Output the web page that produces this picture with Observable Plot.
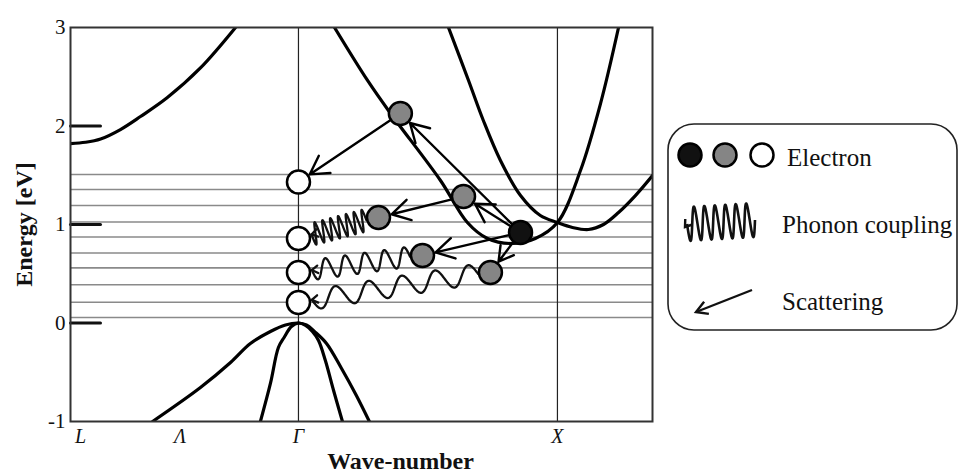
<!DOCTYPE html>
<html><head><meta charset="utf-8">
<script src="https://cdn.jsdelivr.net/npm/d3@7"></script>
<script src="https://cdn.jsdelivr.net/npm/@observablehq/plot@0.6"></script>
<style>
body{margin:0;background:#fff;}
#wrap{position:relative;width:959px;height:476px;overflow:hidden;}
#legend{position:absolute;left:667px;top:123px;}
</style></head><body><div id="wrap"></div>
<script>
// ---------- data ----------
const xDomain = [0, 2.553];            // wave-number: L = 0, Γ = 1, X = 2.136
const yDomain = [-1, 3];               // energy [eV]
const xLabels = ["L", "Λ", "Γ", "X"];
const xLabelPos = [0, 0.48, 1, 2.136];
const symmetryLines = [1, 2.136];      // vertical lines at Γ and X
const yTicks = [3, 2, 1, 0, -1];
const majorTicks = [2, 1, 0];
const levels = [1.508, 1.355, 1.193, 1.025, 0.873, 0.71, 0.56, 0.388, 0.21, 0.056];

// bands
const bandLk = [0, 0.066, 0.132, 0.219, 0.307, 0.425, 0.570, 0.724];
const bandLE = [1.822, 1.835, 1.868, 1.964, 2.096, 2.289, 2.589, 3.0];
const vbWideK = [0.360, 0.570, 0.702, 0.789, 0.877, 0.943, 1.0, 1.035, 1.07, 1.123, 1.189, 1.254, 1.311];
const vbWideE = [-1.0, -0.655, -0.401, -0.208, -0.086, -0.02, 0, -0.02, -0.086, -0.208, -0.462, -0.736, -1.0];
const vbNarrowK = [0.833, 0.877, 0.912, 0.937, 0.969, 1.0, 1.031, 1.061, 1.088, 1.118, 1.154, 1.193];
const vbNarrowE = [-1.0, -0.614, -0.249, -0.147, -0.036, 0, -0.025, -0.086, -0.178, -0.381, -0.685, -1.0];
const cbAk = [1.158, 1.303, 1.404, 1.623, 1.741, 1.829, 1.939, 2.039, 2.136, 2.237, 2.325, 2.404];
const cbAE = [3.0, 2.462, 2.127, 1.447, 1.020, 0.858, 0.807, 0.858, 1.020, 1.548, 2.228, 3.0];
const cbBk = [1.658, 1.746, 1.811, 1.886, 1.974, 2.061, 2.136, 2.202, 2.272, 2.338, 2.404, 2.478, 2.553];
const cbBE = [3.0, 2.462, 2.056, 1.650, 1.294, 1.091, 1.020, 0.970, 0.949, 1.0, 1.122, 1.294, 1.497];

// electrons
const electronId = ["hot", "g1", "g2", "g3", "g4", "g5", "w1", "w2", "w3", "w4"];
const electronK = [1.974, 1.447, 1.724, 1.351, 1.544, 1.842, 1, 1, 1, 1];
const electronE = [0.919, 2.127, 1.284, 1.071, 0.685, 0.513, 1.432, 0.858, 0.513, 0.208];
const electronKind = ["hot", "warm", "warm", "warm", "warm", "warm", "cold", "cold", "cold", "cold"];

// scattering arrows and phonon couplings
const scatterFrom = ["hot", "hot", "hot", "hot", "g1", "g2"];
const scatterTo = ["g1", "g2", "g4", "g5", "w1", "g3"];
const phononFrom = ["g3", "g4", "g5"];
const phononTo = ["w2", "w3", "w4"];
const phononCycles = [7, 5, 5];

// ---------- tables built from the arrays ----------
const zip = (ks, es, band) => ks.map((k, i) => ({k, E: es[i], band}));
const bands = [
  ...zip(bandLk, bandLE, "L"), ...zip(vbWideK, vbWideE, "hh"), ...zip(vbNarrowK, vbNarrowE, "lh"),
  ...zip(cbAk, cbAE, "A"), ...zip(cbBk, cbBE, "B")
];
const electrons = electronId.map((id, i) => ({id, k: electronK[i], E: electronE[i], kind: electronKind[i]}));
const byId = Object.fromEntries(electrons.map(d => [d.id, d]));
const scatter = scatterFrom.map((f, i) => ({a: byId[f], b: byId[scatterTo[i]]}));
const phonons = phononFrom.map((f, i) => ({a: byId[f], b: byId[phononTo[i]], n: phononCycles[i]}));
const fillOf = {hot: "#111", warm: "#858585", cold: "#fff"};
const serif = "Liberation Serif, Times New Roman, serif";

const wigglePts = (x0, y0, x1, y1, n, amp) => {
  const dx = x1 - x0, dy = y1 - y0, L = Math.hypot(dx, dy), ux = dx / L, uy = dy / L;
  const pts = [];
  for (let i = 0; i <= 240; i++) {
    const t = i / 240, w = amp * Math.sin(2 * Math.PI * n * t);
    pts.push([x0 + dx * t - uy * w, y0 + dy * t + ux * w]);
  }
  return pts;
};
const headPath = (tx, ty, ux, uy, len, ang) => {
  const a = ang * Math.PI / 180;
  const r = (c, s) => [tx - len * (ux * c - uy * s), ty - len * (uy * c + ux * s)];
  const p1 = r(Math.cos(a), Math.sin(a)), p2 = r(Math.cos(a), -Math.sin(a));
  return `M${p1}L${tx},${ty}L${p2}`;
};

function phononMark(index, scales) {
  const g = d3.create("svg:g").attr("fill", "none").attr("stroke", "#111")
    .attr("stroke-width", 2.3).attr("stroke-linejoin", "round").attr("stroke-linecap", "round");
  const amps = [11, 10, 10];
  phonons.forEach((p, i) => {
    const ax = scales.x(p.a.k), ay = scales.y(p.a.E), bx = scales.x(p.b.k), by = scales.y(p.b.E);
    const L = Math.hypot(bx - ax, by - ay), ux = (bx - ax) / L, uy = (by - ay) / L;
    const x0 = ax + ux * 12, y0 = ay + uy * 12, x1 = bx - ux * 14, y1 = by - uy * 14;
    g.append("path").attr("d", d3.line()(wigglePts(x0, y0, x1, y1, p.n, amps[i])));
    g.append("path").attr("d", headPath(x1, y1, ux, uy, 7, 32));
  });
  return g.node();
}

const chart = Plot.plot({
  width: 959, height: 476,
  marginLeft: 70, marginRight: 307, marginTop: 27, marginBottom: 55,
  style: {fontFamily: serif, background: "white", color: "#111"},
  x: {domain: xDomain, axis: null},
  y: {domain: yDomain, axis: null},
  marks: [
    Plot.ruleY(levels, {stroke: "#8a8a8a", strokeWidth: 1.6}),
    Plot.ruleX(symmetryLines, {stroke: "#222", strokeWidth: 1.2}),
    Plot.vector(majorTicks, {y: d => d, frameAnchor: "left", rotate: 90, length: 30, anchor: "start",
      stroke: "#111", strokeWidth: 3,
      shape: {draw(ctx, l) { ctx.moveTo(0, 0); ctx.lineTo(0, -l); }}}),
    Plot.line(bands, {x: "k", y: "E", z: "band", curve: "catmull-rom", stroke: "#000", strokeWidth: 3.2, clip: true}),
    Plot.frame({stroke: "#333", strokeWidth: 2}),
    Plot.arrow(scatter, {x1: d => d.a.k, y1: d => d.a.E, x2: d => d.b.k, y2: d => d.b.E,
      insetStart: 13, insetEnd: 13.5, headLength: 13, headAngle: 60, stroke: "#000", strokeWidth: 2.4}),
    phononMark,
    Plot.dot(electrons, {x: "k", y: "E", r: 11.5, fill: d => fillOf[d.kind], stroke: "#000", strokeWidth: 2.5}),
    Plot.text(yTicks, {y: d => d, text: d => String(d), frameAnchor: "left", dx: -5, textAnchor: "end",
      fontSize: 21, fill: "#111"}),
    Plot.text(xLabels.slice(1), {x: (d, i) => xLabelPos[i + 1], text: d => d, frameAnchor: "bottom",
      lineAnchor: "middle", dy: 15, fontSize: 20, fontStyle: "italic", fill: "#111"}),
    Plot.text(xLabels.slice(0, 1), {x: xLabelPos[0], text: d => d, frameAnchor: "bottom",
      lineAnchor: "middle", textAnchor: "middle", dy: 15, dx: 10, fontSize: 20, fontStyle: "italic", fill: "#111"}),
    Plot.text(["Energy [eV]"], {frameAnchor: "left", textAnchor: "middle", lineAnchor: "middle", dx: -46,
      rotate: -90, fontSize: 24, fontWeight: "bold", fill: "#111"}),
    Plot.text(["Wave-number"], {frameAnchor: "bottom", textAnchor: "middle", lineAnchor: "middle", dx: 39, dy: 40,
      fontSize: 24, fontWeight: "bold", fill: "#111"})
  ]
});
document.getElementById("wrap").appendChild(chart);

// ---------- legend (to the right of the frame) ----------
const lg = d3.select("#wrap").append("svg").attr("id", "legend").attr("width", 292).attr("height", 210)
  .style("font-family", serif);
lg.append("rect").attr("x", 1).attr("y", 1).attr("width", 289).attr("height", 206).attr("rx", 26)
  .attr("fill", "white").attr("stroke", "#222").attr("stroke-width", 1.6);
["hot", "warm", "cold"].forEach((k, i) => lg.append("circle").attr("cx", [23, 58, 95][i]).attr("cy", 32)
  .attr("r", 11.5).attr("fill", fillOf[k]).attr("stroke", "#000").attr("stroke-width", 2.5));
const legendText = ["Electron", "Phonon coupling", "Scattering"];
[[120, 43], [115, 110], [115, 187]].forEach(([x, y], i) => lg.append("text").attr("x", x).attr("y", y)
  .attr("font-size", 25).attr("fill", "#111").text(legendText[i]));
lg.append("path").attr("d", d3.line()(wigglePts(20, 101, 88, 97, 6.5, 17))).attr("fill", "none")
  .attr("stroke", "#111").attr("stroke-width", 2.6).attr("stroke-linejoin", "round");
lg.append("path").attr("d", headPath(18, 104, -0.6, 0.8, 8, 35)).attr("fill", "none").attr("stroke", "#111").attr("stroke-width", 2.4);
lg.append("line").attr("x1", 85).attr("y1", 167).attr("x2", 29).attr("y2", 189).attr("stroke", "#111").attr("stroke-width", 2.4);
lg.append("path").attr("d", headPath(29, 189, -0.931, 0.366, 13, 30)).attr("fill", "none").attr("stroke", "#111").attr("stroke-width", 2.4);
</script></body></html>
